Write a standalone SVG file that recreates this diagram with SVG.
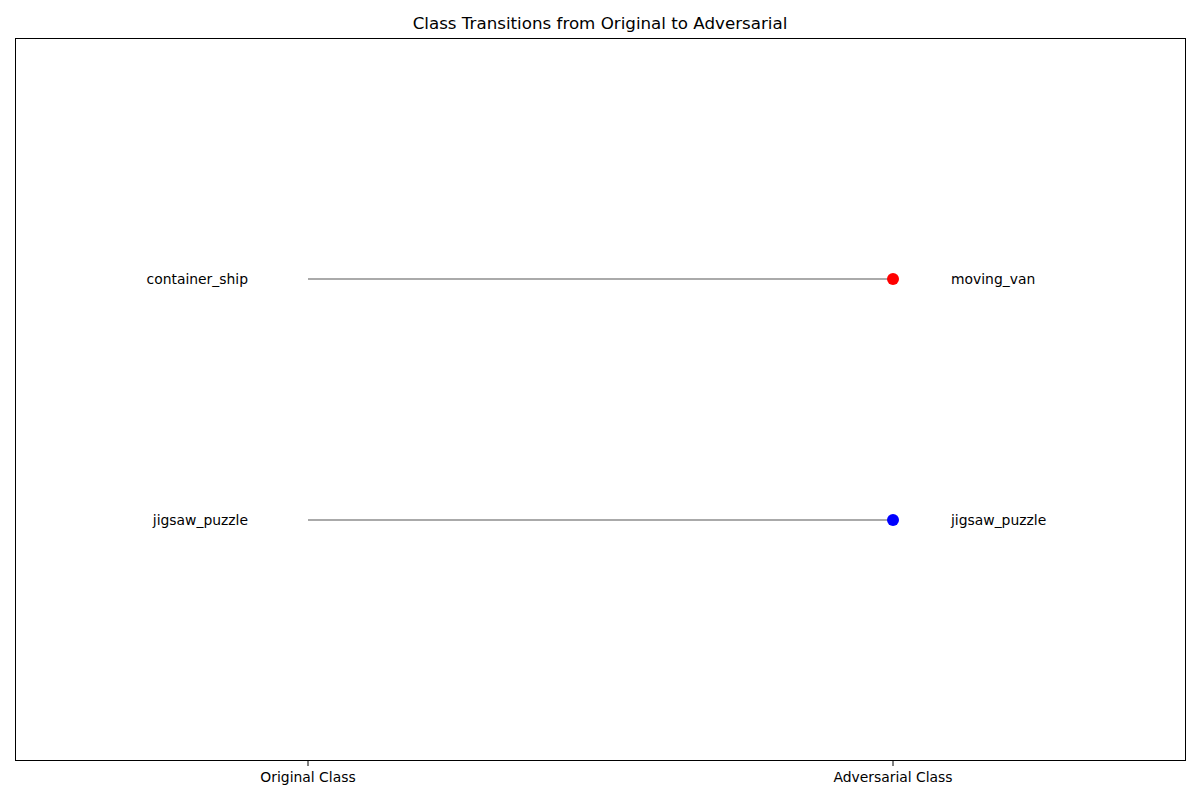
<svg xmlns="http://www.w3.org/2000/svg" width="1200" height="800" viewBox="0 0 1200 800">
<style>
text{font-family:"DejaVu Sans",sans-serif;font-size:13.9px;fill:#000}
.title{font-size:16.7px}
.conn{stroke:#aaaaaa;stroke-width:2;fill:none}
.tick{stroke:#000;stroke-width:1}
</style>
<rect width="1200" height="800" fill="#fff"/>
<text class="title" x="600" y="29" text-anchor="middle">Class Transitions from Original to Adversarial</text>
<rect x="15.5" y="38.5" width="1170" height="722" fill="none" stroke="#000" stroke-width="1"/>
<g id="ticks">
<line class="tick" x1="308" y1="761" x2="308" y2="766"/>
<line class="tick" x1="893" y1="761" x2="893" y2="766"/>
<text x="308" y="782" text-anchor="middle">Original Class</text>
<text x="893" y="782" text-anchor="middle">Adversarial Class</text>
</g>
<g id="connectors">
<line class="conn" x1="308" y1="279" x2="893" y2="279"/>
<line class="conn" x1="308" y1="520" x2="893" y2="520"/>
</g>
<g id="node-container_ship"><text x="248" y="284" text-anchor="end">container_ship</text></g>
<g id="node-moving_van"><circle cx="893" cy="279" r="6" fill="#ff0000"/><text x="951" y="284">moving_van</text></g>
<g id="node-jigsaw_puzzle-orig"><text x="248" y="525" text-anchor="end">jigsaw_puzzle</text></g>
<g id="node-jigsaw_puzzle-adv"><circle cx="893" cy="520" r="6" fill="#0000ff"/><text x="951" y="525">jigsaw_puzzle</text></g>
</svg>
